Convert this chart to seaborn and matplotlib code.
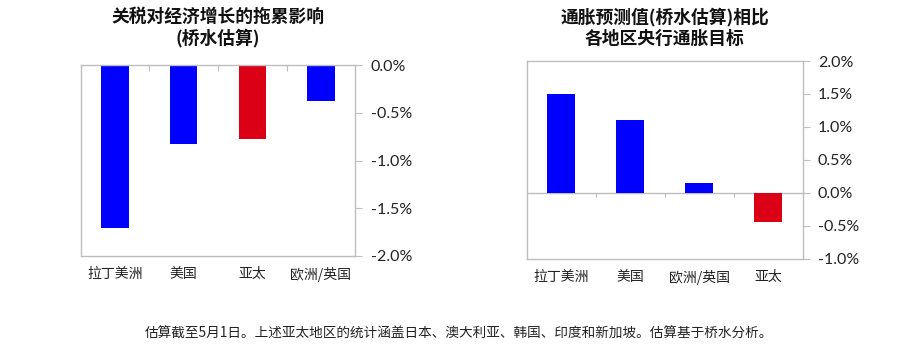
import matplotlib
matplotlib.use("Agg")
import matplotlib.pyplot as plt
import seaborn as sns
import pandas as pd
from matplotlib.ticker import FuncFormatter, FixedLocator

sns.set_theme(style="white")
plt.rcParams["font.family"] = ["Noto Sans CJK SC", "DejaVu Sans"]

BLUE = "#0000FF"
RED = "#DC0016"
FRAME = "#BDBDBD"

# Left panel: drag on growth from tariffs
growth_regions = ["拉丁美洲", "美国", "亚太", "欧洲/英国"]
growth_drag = [-1.71, -0.83, -0.77, -0.38]
growth_colors = [BLUE, BLUE, RED, BLUE]

# Right panel: projected inflation vs central bank targets
infl_regions = ["拉丁美洲", "美国", "欧洲/英国", "亚太"]
infl_gap = [1.50, 1.10, 0.15, -0.45]
infl_colors = [BLUE, BLUE, BLUE, RED]

growth_ticks = [0.0, -0.5, -1.0, -1.5, -2.0]
infl_ticks = [2.0, 1.5, 1.0, 0.5, 0.0, -0.5, -1.0]

title_left = "关税对经济增长的拖累影响\n(桥水估算)"
title_right = "通胀预测值(桥水估算)相比\n各地区央行通胀目标"
footnote = "估算截至5月1日。上述亚太地区的统计涵盖日本、澳大利亚、韩国、印度和新加坡。估算基于桥水分析。"

fig = plt.figure(figsize=(9, 3.49), dpi=100)
ax1 = fig.add_axes([0.0897, 0.2665, 0.305, 0.547])
ax2 = fig.add_axes([0.585, 0.2587, 0.3067, 0.5665])

pct = FuncFormatter(lambda v, _: f"{v:.1f}%")


def draw(ax, cats, vals, cols, ticks, ylim, title):
    df = pd.DataFrame({"region": cats, "value": vals})
    sns.barplot(data=df, x="region", y="value", hue="region",
                palette=dict(zip(cats, cols)), legend=False, saturation=1,
                width=0.4, linewidth=0, ax=ax, order=cats)
    ax.set_ylim(*ylim)
    ax.set_xlim(-0.5, len(cats) - 0.5)
    ax.set_xlabel("")
    ax.set_ylabel("")
    ax.yaxis.tick_right()
    ax.yaxis.set_major_locator(FixedLocator(ticks))
    ax.yaxis.set_major_formatter(pct)
    ax.tick_params(axis="y", which="major", right=True, left=False,
                   direction="out", length=5, width=0.8, color=FRAME,
                   labelsize=11.5, labelcolor="#222222", pad=6)
    for lbl in ax.get_yticklabels():
        lbl.set_fontfamily(["Lato", "DejaVu Sans"])
    ax.tick_params(axis="x", which="major", bottom=False, length=0,
                   labelsize=10, labelcolor="#222222", pad=8)
    for s in ax.spines.values():
        s.set_visible(True)
        s.set_color(FRAME)
        s.set_linewidth(1.0)
    pos = ax.get_position()
    fig.text((pos.x0 + pos.x1) / 2, 0.921, title, ha="center", va="center",
             fontsize=12.8, fontweight="bold", color="#111111",
             linespacing=1.2)


draw(ax1, growth_regions, growth_drag, growth_colors, growth_ticks,
     (-2.0, 0.0), title_left)
draw(ax2, infl_regions, infl_gap, infl_colors, infl_ticks,
     (-1.0, 2.0), title_right)

# category separators along the zero line
ax1.xaxis.set_minor_locator(FixedLocator([0.5, 1.5, 2.5]))
ax1.tick_params(axis="x", which="minor", top=True, bottom=False,
                direction="in", length=4, color=FRAME, width=0.8)
ax2.axhline(0, color=FRAME, linewidth=1.0, zorder=0.5)
ax2.vlines([0.5, 1.5, 2.5], -0.06, 0, color=FRAME, linewidth=0.8)

fig.text(0.51, 0.045, footnote, ha="center", va="center",
         fontsize=9.8, color="#222222")

fig.savefig("out.png", dpi=100)
